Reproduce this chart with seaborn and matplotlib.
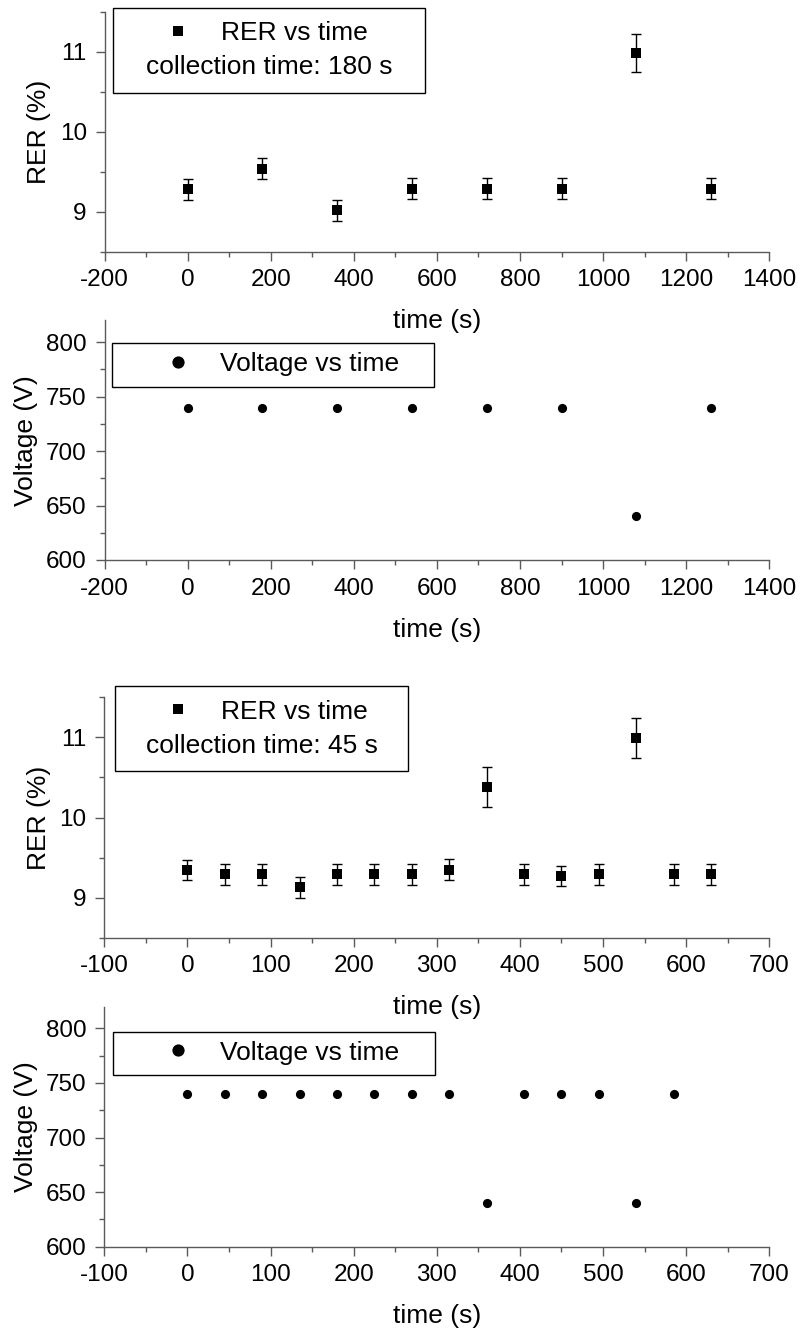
import matplotlib
matplotlib.use("Agg")
import matplotlib.pyplot as plt
from matplotlib.patches import Rectangle
from matplotlib.lines import Line2D
from matplotlib.ticker import MultipleLocator
import seaborn as sns

# Run with 180 s collection time
time_180 = [0, 180, 360, 540, 720, 900, 1080, 1260]
rer_180 = [9.28, 9.54, 9.02, 9.29, 9.29, 9.29, 10.98, 9.29]
rer_err_180 = [0.13, 0.13, 0.13, 0.13, 0.13, 0.13, 0.24, 0.13]
voltage_180 = [740, 740, 740, 740, 740, 740, 640, 740]

# Run with 45 s collection time
time_45 = [0, 45, 90, 135, 180, 225, 270, 315, 360, 405, 450, 495, 540, 585, 630]
rer_45 = [9.34, 9.29, 9.29, 9.13, 9.29, 9.29, 9.29, 9.35, 10.38, 9.29, 9.27,
          9.29, 10.99, 9.29, 9.29]
rer_err_45 = [0.125, 0.13, 0.13, 0.13, 0.13, 0.13, 0.13, 0.13, 0.25, 0.13,
              0.127, 0.13, 0.25, 0.13, 0.13]
time_45_v = [0, 45, 90, 135, 180, 225, 270, 315, 360, 405, 450, 495, 540, 585]
voltage_45 = [740, 740, 740, 740, 740, 740, 740, 740, 640, 740, 740, 740, 640, 740]

sns.set_theme(style="ticks")
plt.rcParams["font.family"] = ["Liberation Sans", "DejaVu Sans"]
plt.rcParams["axes.unicode_minus"] = False
plt.rcParams["text.color"] = "black"
plt.rcParams["axes.labelcolor"] = "black"
plt.rcParams["xtick.labelcolor"] = "black"
plt.rcParams["ytick.labelcolor"] = "black"

W, H = 800, 1331
TICK_FS = 17.5
LABEL_FS = 19.0
AXC = "#5a5a5a"
FS_PX = LABEL_FS * 100 / 72

fig = plt.figure(figsize=(W / 100, H / 100), dpi=100)
fig.patch.set_facecolor("white")


def fx(px):
    return px / W


def fy(py):
    return 1 - py / H


def add_axes(left, top, right, bottom):
    ax = fig.add_axes([fx(left), fy(bottom), (right - left) / W, (bottom - top) / H])
    ax.patch.set_visible(False)
    return ax


def style(ax, xlim, xstep, ylim, ystep, ylabel):
    ax.set_xlim(*xlim)
    ax.set_ylim(*ylim)
    ax.xaxis.set_major_locator(MultipleLocator(xstep))
    ax.xaxis.set_minor_locator(MultipleLocator(xstep / 2))
    ax.yaxis.set_major_locator(MultipleLocator(ystep))
    ax.yaxis.set_minor_locator(MultipleLocator(ystep / 2))
    for s in ("top", "right"):
        ax.spines[s].set_visible(False)
    for s in ("left", "bottom"):
        ax.spines[s].set_color(AXC)
        ax.spines[s].set_linewidth(1.0)
    ax.tick_params(which="major", direction="out", length=6.2, width=1.0,
                   color=AXC, labelsize=TICK_FS, labelcolor="black", pad=6.5)
    ax.tick_params(which="minor", direction="out", length=3.6, width=1.0, color=AXC)
    ax.set_xlabel("time (s)", fontsize=LABEL_FS, labelpad=13, color="black")
    ax.set_ylabel(ylabel, fontsize=LABEL_FS, labelpad=6, color="black")


def legend_box(left, top, right, bottom):
    fig.add_artist(Rectangle((fx(left), fy(bottom)), (right - left) / W, (bottom - top) / H,
                             transform=fig.transFigure, fill=False, ec="black", lw=1.0))


def add_legend(ax, marker, msize, label, mx, my, text_x):
    handle = Line2D([], [], marker=marker, ls="none", color="black",
                    markersize=msize, markeredgewidth=0)
    half = 0.5 * FS_PX
    ax.legend([handle], [label], loc="center left",
              bbox_to_anchor=(fx(mx - half), fy(my)), bbox_transform=fig.transFigure,
              frameon=False, borderpad=0, borderaxespad=0, handlelength=1.0,
              handletextpad=(text_x - mx - half) / FS_PX, fontsize=LABEL_FS,
              numpoints=1)


def rer_panel(ax, t, r, e, xlim, xstep):
    ax.errorbar(t, r, yerr=e, fmt="none", ecolor="black", elinewidth=1.0,
                capsize=3.6, capthick=1.0, zorder=2)
    sns.scatterplot(x=t, y=r, marker="s", s=7.4 ** 2, color="black",
                    linewidth=0, legend=False, ax=ax, zorder=3)
    style(ax, xlim, xstep, (8.5, 11.5), 1.0, "RER (%)")


def volt_panel(ax, t, v, xlim, xstep):
    sns.scatterplot(x=t, y=v, marker="o", s=6.6 ** 2, color="black",
                    linewidth=0, legend=False, ax=ax, zorder=3)
    style(ax, xlim, xstep, (600, 820), 50, "Voltage (V)")


# Panel 1: RER, 180 s
ax1 = add_axes(104.5, 11.7, 769.3, 251.7)
rer_panel(ax1, time_180, rer_180, rer_err_180, (-200, 1400), 200)
legend_box(113, 8.3, 425, 92.7)
add_legend(ax1, "s", 7.4, "RER vs time", 178, 33.5, 221)
fig.text(fx(269), fy(74), "collection time: 180 s", ha="center", va="baseline",
         fontsize=LABEL_FS)

# Panel 2: voltage, 180 s
ax2 = add_axes(104.5, 320.5, 769.3, 560)
volt_panel(ax2, time_180, voltage_180, (-200, 1400), 200)
legend_box(112, 343.3, 434.3, 387)
add_legend(ax2, "o", 8.8, "Voltage vs time", 178, 364.5, 220)

# Panel 3: RER, 45 s
ax3 = add_axes(104.3, 697.2, 769.3, 937.8)
rer_panel(ax3, time_45, rer_45, rer_err_45, (-100, 700), 100)
legend_box(115, 686, 408.3, 771)
add_legend(ax3, "s", 7.4, "RER vs time", 178, 711.7, 221)
fig.text(fx(262), fy(753.3), "collection time: 45 s", ha="center", va="baseline",
         fontsize=LABEL_FS)

# Panel 4: voltage, 45 s
ax4 = add_axes(104.3, 1006.5, 769.3, 1246.7)
volt_panel(ax4, time_45_v, voltage_45, (-100, 700), 100)
legend_box(112.7, 1031.7, 435, 1075.3)
add_legend(ax4, "o", 8.8, "Voltage vs time", 178, 1052.7, 220)

fig.savefig("out.png", dpi=100, facecolor="white")
